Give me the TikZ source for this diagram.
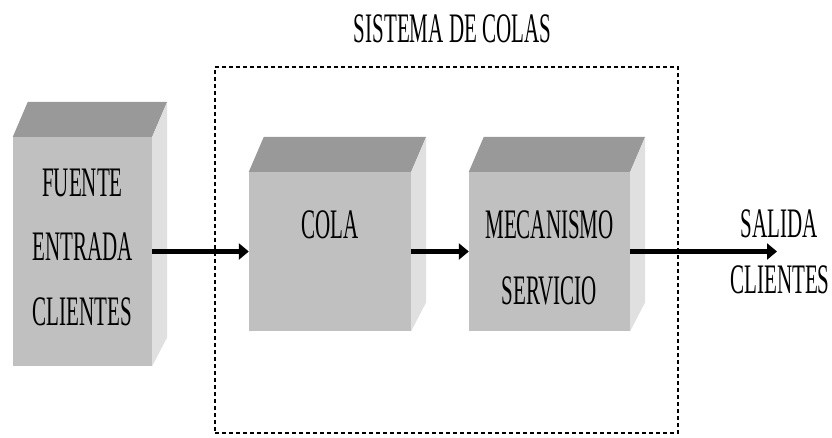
\documentclass[tikz,border=0pt]{standalone}
\usepackage{fontspec}
\newfontfamily\cf[FakeStretch=0.5]{Liberation Serif}
\usetikzlibrary{arrows.meta,calc}
\definecolor{frontc}{RGB}{192,192,192}
\definecolor{topc}{RGB}{153,153,153}
\definecolor{sidec}{RGB}{224,224,224}
\newcommand\boxfaces[1]{%
  \fill[topc] (#1.north west) -- (#1.north east) -- ++(15,-35) -- ($(#1.north west)+(15,-35)$) -- cycle;
  \fill[sidec] (#1.north east) -- ++(15,-35) -- ($(#1.south east)+(15,-29)$) -- (#1.south east) -- cycle;
}
\begin{document}
\begin{tikzpicture}[x=1pt,y=-1pt,
  front/.style={fill=frontc, draw=none, inner sep=0pt},
  txt/.style={font=\cf\fontsize{42}{50}\selectfont, anchor=base, inner sep=0pt},
  flow/.style={line width=5pt, -{Triangle[length=10pt,width=16pt]}},
  sysbox/.style={draw, line width=1.4pt, dash pattern=on 4pt off 3pt, inner sep=0pt}]
\useasboundingbox (0,0) rectangle (832,437);
% system boundary
\node[sysbox, minimum width=463pt, minimum height=366pt] (sistema) at (446.5,250) {};
\node[txt] (titulo) at (452.5,42) {SISTEMA DE COLAS};
% boxes
\node[front, minimum width=139pt, minimum height=229pt] (fuente) at (82.5,251.5) {};
\node[front, minimum width=162pt, minimum height=159pt] (cola) at (330,251.5) {};
\node[front, minimum width=161pt, minimum height=159pt] (servicio) at (549.5,251.5) {};
\boxfaces{fuente}
\boxfaces{cola}
\boxfaces{servicio}
% texts
\node[txt] (f1) at (82.5,196) {FUENTE};
\node[txt] (f2) at (82.5,260) {ENTRADA};
\node[txt] (f3) at (82.5,325) {CLIENTES};
\node[txt] (c1) at (330,238) {COLA};
\node[txt] (s1) at (549.5,238) {MECANISMO};
\node[txt] (s2) at (549.5,304) {SERVICIO};
\node[txt] (o1) at (779,237) {SALIDA};
\node[txt] (o2) at (780,293) {CLIENTES};
% arrows
\coordinate (salida) at (777,251.5);
\draw[flow] (fuente.east) -- (cola.west);
\draw[flow] (cola.east) -- (servicio.west);
\draw[flow] (servicio.east) -- (salida);
\end{tikzpicture}
\end{document}
